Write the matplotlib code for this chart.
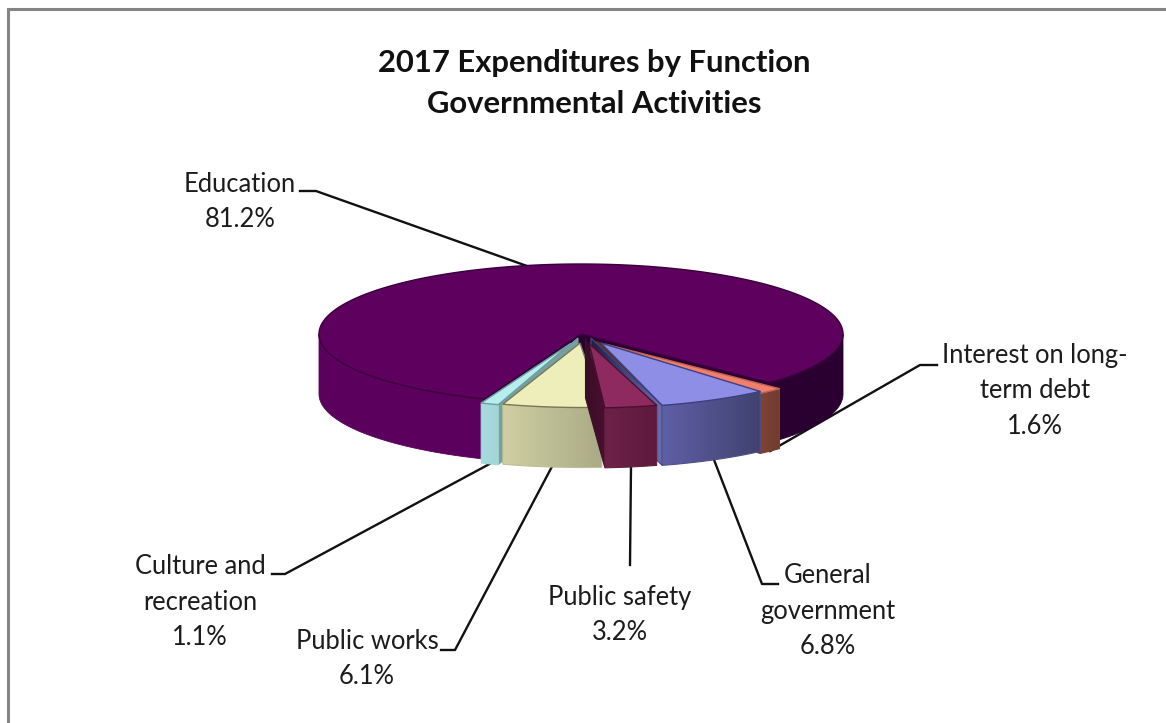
import numpy as np
import matplotlib.pyplot as plt
from matplotlib.patches import Polygon
from matplotlib.colors import to_rgb

plt.rcParams['font.family'] = ['Lato', 'DejaVu Sans']

# slices, clockwise starting from the right hand side of the gap
names = ["Interest on long-\nterm debt", "General\ngovernment", "Public safety",
         "Public works", "Culture and\nrecreation", "Education"]
values = [1.6, 6.8, 3.2, 6.1, 1.1, 81.2]

top_colors = ["#f07f6e", "#8e8ee6", "#8f2a60", "#eeeebb", "#b6eeee", "#5e005e"]
side_left = ["#7d4438", "#5f5fa6", "#6e2148", "#cfcfa2", "#a8dcdc", "#5b005c"]
side_right = ["#733a2e", "#40426f", "#5e1a3e", "#aaaa86", "#a0d4d6", "#2a0030"]
wall_inner = ["#5e2e24", "#1e1e48", "#3a0c28", "#4a3a3a", "#76a0a2", "#2a0032"]
wall_outer = ["#5e2e24", "#6a6eb0", "#4a1030", "#4a3a3a", "#76a0a2", "#2a0032"]
edge_colors = ["#c06050", "#3e3e80", "#4a1030", "#77775a", "#6f9fa0", "#3a003c"]

# offset of each slice from the pie centre
offsets = [(10, 6), (10, 4), (4.5, 4), (1.5, 3.5), (-3, 4), (0, 0)]

# text centre, and the knee and start of each leader line
text_pos = [(1035, 391), (828, 611), (620, 615), (367, 659), (200, 602), (240, 202)]
leader_start = [(937, 365), (778, 584), (630, 565), (441, 650), (272, 574), (300, 191)]
leader_knee = [(920, 365), (762, 584), (630, 565), (455, 650), (285, 574), (316, 191)]

CX, CY = 581, 334
RX, RY = 262, 70
DEPTH = 60
START = 46.0


def rim(theta, dx=0, dy=0, r=1.0):
    t = np.radians(theta)
    return CX + dx + r * RX * np.sin(t), CY + dy + r * RY * np.cos(t)


def shaded(ax, xs, ys, c_left, c_right, z):
    # polygon filled with a left to right colour ramp
    pts = np.column_stack([xs, ys])
    ramp = np.linspace(to_rgb(c_left), to_rgb(c_right), 64)[np.newaxis, :, :]
    patch = Polygon(pts, closed=True, facecolor="none",
                    edgecolor=np.mean([to_rgb(c_left), to_rgb(c_right)], axis=0),
                    lw=0.8, zorder=z + 0.1)
    ax.add_patch(patch)
    im = ax.imshow(ramp, extent=(min(xs), max(xs), max(ys), min(ys)), aspect="auto",
                   interpolation="bilinear", zorder=z)
    im.set_clip_path(patch)


def side_outline(a0, a1, dx, dy):
    th = np.linspace(a0, a1, 200)
    x, y = rim(th, dx, dy)
    return np.r_[x, x[::-1]], np.r_[y, y[::-1] + DEPTH]


fig = plt.figure(figsize=(11.66, 7.23), dpi=100)
ax = fig.add_axes([0, 0, 1, 1])
ax.set_xlim(0, 1166)
ax.set_ylim(723, 0)
ax.set_autoscale_on(False)
ax.axis("off")

# only the top and left sides of the frame are on the canvas
ax.plot([8, 8, 1166], [723, 9, 9], color="#858585", lw=2.2, solid_joinstyle="miter", zorder=1)

spans = np.array(values) / sum(values) * 360
edges = START - np.concatenate([[0], np.cumsum(spans)])

# education first since the smaller slices sit in front of it
order = [5, 0, 1, 4, 3, 2]
for n, i in enumerate(order):
    a0, a1 = edges[i], edges[i + 1]
    dx, dy = offsets[i]
    z = 2 + n * 2

    th = np.linspace(a0, a1, 400)
    x, y = rim(th, dx, dy)
    if i == 5:
        # education wraps round the back, its wall shows on both sides of the gap
        for a in (a0, a1):
            ex, ey = rim(a, dx, dy)
            ax.fill([CX, ex, ex, CX], [CY, ey, ey + DEPTH, CY + DEPTH],
                    color=wall_inner[i], lw=0.6, zorder=z)
        sx, sy = side_outline(-90, a0, dx, dy)
        ax.fill(sx, sy, color=side_left[i], lw=0.6, zorder=z)
        sx, sy = side_outline(a1 + 360, 90, dx, dy)
        ax.fill(sx, sy, color=side_right[i], lw=0.6, zorder=z)
        ax.fill(np.r_[CX + dx, x], np.r_[CY + dy, y], facecolor=top_colors[i],
                edgecolor=edge_colors[i], lw=1.0, zorder=z + 1)
    else:
        # a cut face only turns towards the viewer on the far side of the slice
        if a1 > 0 or a0 < 0:
            ex, ey = rim(a1 if a1 > 0 else a0, dx, dy)
            wx = [CX + dx, ex, ex, CX + dx]
            wy = [CY + dy, ey, ey + DEPTH, CY + dy + DEPTH]
            if ex > CX + dx:
                shaded(ax, wx, wy, wall_inner[i], wall_outer[i], z)
            else:
                shaded(ax, wx, wy, wall_outer[i], wall_inner[i], z)
        sx, sy = side_outline(a1, a0, dx, dy)
        shaded(ax, sx, sy, side_left[i], side_right[i], z + 0.3)
        tip_x, tip_y = rim((a0 + a1) / 2, dx, dy, 0.08)
        ax.fill(np.r_[tip_x, x], np.r_[tip_y, y], facecolor=top_colors[i],
                edgecolor=edge_colors[i], lw=1.0, zorder=z + 1)

# leader lines run from the label to the rim in the middle of the slice
for i in range(6):
    mid = (edges[i] + edges[i + 1]) / 2
    dx, dy = offsets[i]
    x, y = rim(mid, dx, dy)
    if i != 5:
        y = y + DEPTH
    sx, sy = leader_start[i]
    kx, ky = leader_knee[i]
    ax.plot([sx, kx, x], [sy, ky, y], color="#111111", lw=1.7, zorder=1.5)

for i in range(6):
    ax.text(text_pos[i][0], text_pos[i][1], f"{names[i]}\n{values[i]:.1f}%",
            ha="center", va="center", fontsize=18.4, color="#1c1c1c", linespacing=1.54,
            zorder=20)

ax.text(594, 83.5, "2017 Expenditures by Function\nGovernmental Activities", ha="center",
        va="center", fontsize=22.3, fontweight="bold", color="#111111", linespacing=1.6)

fig.savefig("out.png", dpi=100)
